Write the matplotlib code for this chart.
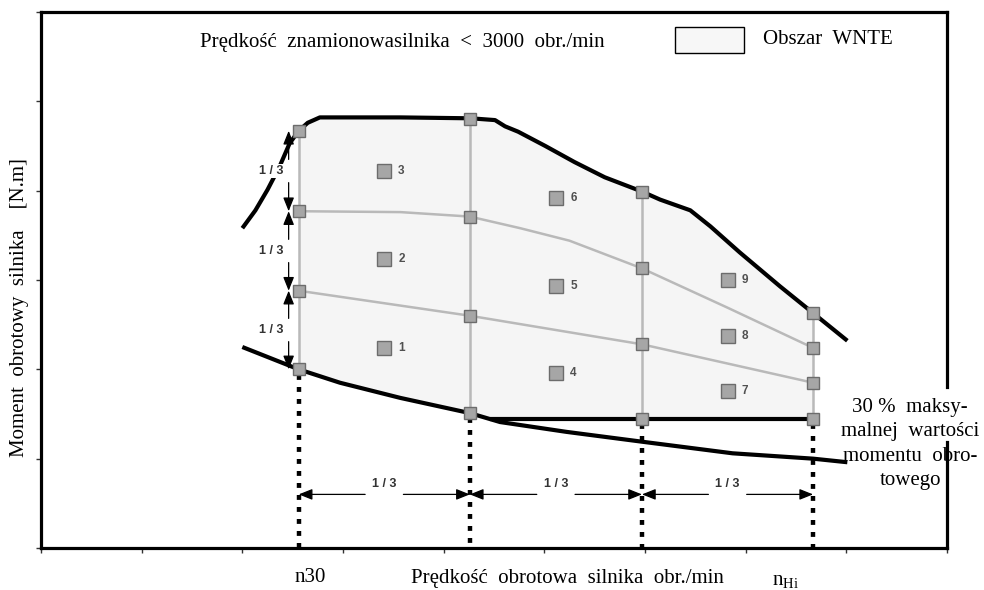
import numpy as np
import matplotlib
matplotlib.use("Agg")
import matplotlib.pyplot as plt
from matplotlib.patches import Polygon, Rectangle

plt.rcParams['font.family'] = ['Liberation Serif', 'DejaVu Serif']
plt.rcParams['mathtext.fontset'] = 'custom'
plt.rcParams['mathtext.rm'] = 'Liberation Serif'
plt.rcParams['mathtext.it'] = 'Liberation Serif:italic'

# Test-point speeds: n30, two intermediate speeds, nHi
speed_points = [2.56, 4.26, 5.97, 7.67]
# Torque levels on each speed line (bottom -> top)
torque_bottom = [2.00, 1.51, 1.444, 1.444]
torque_low = [2.88, 2.60, 2.28, 1.85]
torque_mid = [3.77, 3.71, 3.13, 2.24]
torque_top = [4.67, 4.80, 3.99, 2.63]

# Shape of the upper inner grid curve between the speed lines
mid_curve_x = [2.56, 3.57, 4.26, 4.76, 5.25, 5.97, 6.82, 7.67]
mid_curve_y = [3.77, 3.76, 3.71, 3.58, 3.44, 3.13, 2.69, 2.24]

# Full-load (maximum) torque curve
full_x = [2.00, 2.13, 2.25, 2.37, 2.47, 2.56, 2.65, 2.77, 3.57, 4.27, 4.51,
          4.61, 4.74, 5.01, 5.30, 5.60, 5.97, 6.15, 6.30, 6.45, 6.65, 6.94,
          7.34, 7.67, 8.01]
full_y = [3.58, 3.78, 4.01, 4.27, 4.53, 4.67, 4.76, 4.82, 4.82, 4.81, 4.79,
          4.72, 4.66, 4.50, 4.32, 4.15, 3.99, 3.90, 3.84, 3.78, 3.60, 3.31,
          2.93, 2.63, 2.32]

# Lower torque curve
low_x = [2.00, 2.56, 2.97, 3.57, 4.26, 4.56, 5.22, 5.97, 6.87, 7.67, 8.01]
low_y = [2.25, 2.00, 1.85, 1.68, 1.51, 1.41, 1.30, 1.19, 1.06, 1.00, 0.96]

# 30 % of maximum torque
limit_30 = 1.444

# Numbered measurement cells
cell_x = [3.41, 3.41, 3.41, 5.12, 5.12, 5.12, 6.82, 6.82, 6.82]
cell_y = [2.24, 3.24, 4.22, 1.96, 2.93, 3.92, 1.76, 2.37, 3.00]
cell_ids = ['1', '2', '3', '4', '5', '6', '7', '8', '9']

third_label = '1 / 3'

W, H = 984, 590
fig = plt.figure(figsize=(W / 100, H / 100), dpi=100)
ax = fig.add_axes([41 / W, 42 / H, 906 / W, 536 / H])
ax.set_xlim(0, 9)
ax.set_ylim(0, 6)


def fx(px):
    return px / W


def fy(py):
    return 1 - py / H


# --- WNTE area ---------------------------------------------------------
full_x_a = np.array(full_x)
full_y_a = np.array(full_y)
low_x_a = np.array(low_x)
low_y_a = np.array(low_y)
x_left, x_right = speed_points[0], speed_points[-1]
x_cross = float(np.interp(limit_30, low_y_a[::-1], low_x_a[::-1]))

upper_mask = (full_x_a >= x_left) & (full_x_a <= x_right)
upper_pts = list(zip(full_x_a[upper_mask], full_y_a[upper_mask]))
lower_mask = (low_x_a >= x_left) & (low_x_a < x_cross)
lower_pts = list(zip(low_x_a[lower_mask], low_y_a[lower_mask]))[::-1]
poly_pts = upper_pts + [(x_right, limit_30), (x_cross, limit_30)] + lower_pts
ax.add_patch(Polygon(poly_pts, closed=True, facecolor='#f5f5f5',
                     edgecolor='none', zorder=1))

# --- grey grid lines ---------------------------------------------------
grey = '#b9b9b9'
for i, xs in enumerate(speed_points):
    ax.plot([xs, xs], [torque_bottom[i], torque_top[i]], color=grey, lw=1.8,
            zorder=2, solid_capstyle='butt')
ax.plot(mid_curve_x, mid_curve_y, color=grey, lw=1.8, zorder=2)
ax.plot(speed_points, torque_low, color=grey, lw=1.8, zorder=2)

# --- black boundary curves ---------------------------------------------
ax.plot(full_x, full_y, color='black', lw=3, zorder=3,
        solid_capstyle='butt', solid_joinstyle='round')
ax.plot(low_x, low_y, color='black', lw=3, zorder=3,
        solid_capstyle='butt', solid_joinstyle='round')
ax.plot([x_cross, x_right], [limit_30, limit_30], color='black', lw=3,
        zorder=3, solid_capstyle='butt')

# --- dotted speed markers ----------------------------------------------
for i, xs in enumerate(speed_points):
    ax.plot([xs, xs], [torque_bottom[i] - 0.06, 0], color='black', lw=3.2,
            linestyle=(0, (1.1, 1.6)), dash_capstyle='butt', zorder=2)

# --- grid points -------------------------------------------------------
sq = dict(marker='s', mfc='#a6a6a6', mec='#6c6c6c', mew=1.0, ls='none',
          zorder=5)
for level in (torque_bottom, torque_low, torque_mid, torque_top):
    ax.plot(speed_points, level, ms=8.3, **sq)

# --- numbered cells ----------------------------------------------------
ax.plot(cell_x, cell_y, ms=9.5, **sq)
for cx, cy, cid in zip(cell_x, cell_y, cell_ids):
    ax.annotate(cid, (cx, cy), xytext=(10, 0), textcoords='offset points',
                ha='left', va='center', fontsize=8.5, fontweight='bold',
                color='#505050', family='Liberation Sans', zorder=6)

# --- 1/3 dimension arrows ----------------------------------------------
arrow_kw = dict(arrowstyle='-|>,head_length=0.55,head_width=0.22',
                color='black', lw=0.9, shrinkA=0, shrinkB=0,
                mutation_scale=15)
third_kw = dict(fontsize=9, fontweight='bold', color='#333333',
                family='Liberation Sans', ha='center', va='center')

v_levels = [torque_bottom[0], torque_low[0], torque_mid[0], torque_top[0]]
v_x = 2.46
for a, b in zip(v_levels[:-1], v_levels[1:]):
    m = (a + b) / 2
    g = 0.13
    ax.annotate('', xy=(v_x, a), xytext=(v_x, m - g), arrowprops=arrow_kw,
                zorder=6)
    ax.annotate('', xy=(v_x, b), xytext=(v_x, m + g), arrowprops=arrow_kw,
                zorder=6)
    ax.text(2.29, m, third_label, zorder=6,
            bbox=dict(facecolor='white', edgecolor='none', pad=1.0),
            **third_kw)

h_y = 0.60
for a, b in zip(speed_points[:-1], speed_points[1:]):
    m = (a + b) / 2
    g = 0.19
    ax.annotate('', xy=(a, h_y), xytext=(m - g, h_y), arrowprops=arrow_kw,
                zorder=6)
    ax.annotate('', xy=(b, h_y), xytext=(m + g, h_y), arrowprops=arrow_kw,
                zorder=6)
    ax.text(m, 0.72, third_label, zorder=6, **third_kw)

# --- axes frame --------------------------------------------------------
ax.set_xticks(range(10))
ax.set_yticks(range(7))
ax.set_xticklabels([])
ax.set_yticklabels([])
ax.tick_params(axis='both', direction='out', length=3.5, width=1,
               color='#333333')
for side in ('left', 'bottom', 'top'):
    ax.spines[side].set_linewidth(2.3)
ax.spines['right'].set_visible(False)
for y0, y1 in ((0, 1.19), (1.80, 6)):
    ax.plot([9, 9], [y0, y1], color='black', lw=2.3, clip_on=False,
            solid_capstyle='projecting', zorder=4)

# --- texts -------------------------------------------------------------
fs = 15
fig.text(fx(402), fy(42), 'Prędkość  znamionowasilnika  <  3000  obr./min',
         ha='center', va='center', fontsize=fs)
fig.patches.append(Rectangle((fx(675), fy(53)), (744 - 675) / W, 26 / H,
                             transform=fig.transFigure, facecolor='#f7f7f7',
                             edgecolor='black', lw=1.0))
fig.text(fx(763), fy(40), 'Obszar  WNTE', ha='left', va='center', fontsize=fs)

fig.text(fx(20), fy(308), 'Moment  obrotowy  silnika    [N.m]',
         rotation=90, ha='center', va='center', fontsize=fs)
fig.text(fx(310), fy(578), 'n30', ha='center', va='center', fontsize=fs)
fig.text(fx(567), fy(578), 'Prędkość  obrotowa  silnika  obr./min',
         ha='center', va='center', fontsize=fs)
fig.text(fx(785), fy(580), r'n$_{\mathrm{Hi}}$', ha='center', va='center',
         fontsize=fs)
fig.text(fx(910), fy(444), '30 %  maksy-\nmalnej  wartości\nmomentu  obro-\ntowego',
         ha='center', va='center', fontsize=fs, linespacing=1.38, zorder=5)

fig.savefig('out.png', dpi=100)
